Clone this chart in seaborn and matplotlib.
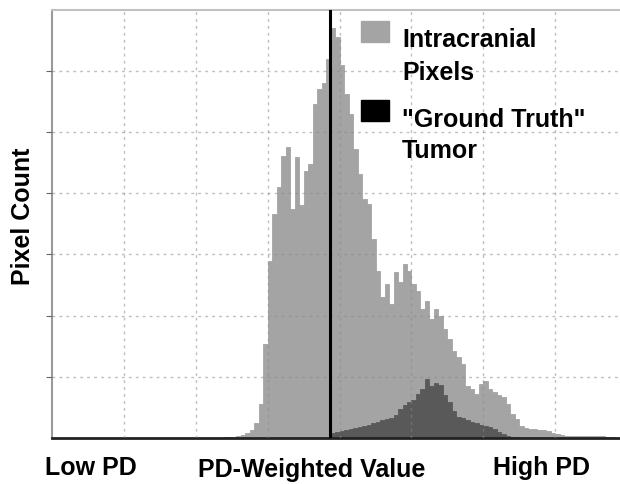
import numpy as np
import pandas as pd
import seaborn as sns
import matplotlib
matplotlib.use("Agg")
import matplotlib.pyplot as plt
from matplotlib.patches import Rectangle

sns.set_style("white")
plt.rcParams['font.family'] = ['Liberation Sans', 'DejaVu Sans']
plt.rcParams['text.color'] = 'black'

# PD-weighted value (0-255), histogram bins of width 2
bin_width = 2
brain_start = 72
brain_counts = [5, 8, 10, 12,
                15, 30, 50, 80, 130, 245, 555, 1535, 2890, 3660,
                4100, 4600, 4750, 3750, 4590, 3800, 4360, 4480, 5460, 5700,
                5800, 6200, 6700, 6550, 6100, 5620, 5290, 4720, 4310, 3900,
                3820, 3250, 2730, 2300, 2520, 2190, 2710, 2550, 2840, 2730,
                2520, 2400, 2110, 2240, 1940, 2110, 1990, 1780, 1620, 1420,
                1320, 1210, 850, 800, 720, 880, 930, 800, 750, 700,
                670, 555, 390, 310, 195, 165, 150, 150, 130, 130,
                115, 80, 65, 50, 40, 35, 40, 30, 35, 30,
                25, 30, 25, 20, 20]

tumor_start = 124
tumor_counts = [80, 100, 115, 130, 150, 165, 180, 195, 210, 245,
                260, 295, 310, 325, 375, 475, 540, 590, 620, 720,
                800, 965, 850, 900, 865, 700, 590, 440, 345, 325,
                295, 260, 245, 210, 195, 180, 150, 100, 65, 35,
                20, 10]

threshold = 123.7

brain_end = brain_start + bin_width * len(brain_counts)
tumor_end = tumor_start + bin_width * len(tumor_counts)
brain = pd.DataFrame({'value': np.arange(brain_start, brain_end, bin_width) + bin_width / 2,
                      'count': brain_counts})
tumor = pd.DataFrame({'value': np.arange(tumor_start, tumor_end, bin_width) + bin_width / 2,
                      'count': tumor_counts})

fig = plt.figure(figsize=(6.2, 4.85), dpi=100)
ax = fig.add_axes([52 / 620, 1 - 439 / 485, 568 / 620, 428.4 / 485])

gray = '#a4a4a4'
dark = '#595959'

sns.histplot(data=brain, x='value', weights='count', binwidth=bin_width,
             binrange=(brain_start, brain_end), element='bars', fill=True,
             color=gray, edgecolor=gray, alpha=1, linewidth=0.6, ax=ax)
sns.histplot(data=tumor, x='value', weights='count', binwidth=bin_width,
             binrange=(tumor_start, tumor_end), element='bars', fill=True,
             color=dark, edgecolor=dark, alpha=1, linewidth=0.6, ax=ax)

ax.axvline(threshold, color='black', lw=2.2, zorder=5)

ax.set_xlim(0, 252.8)
ax.set_ylim(0, 7000)
ax.set_xticks(np.arange(32, 252, 32))
ax.set_yticks(np.arange(1000, 7000, 1000))
ax.set_axisbelow(False)
ax.grid(True, color='#8a8a8a', linestyle=(0, (2, 3)), linewidth=1, alpha=0.55)
ax.tick_params(labelbottom=False, labelleft=False, bottom=False,
               left=True, length=4, color='#666666')
ax.set_xlabel('')
ax.set_ylabel('')

ax.spines['right'].set_visible(False)
ax.spines['bottom'].set_color('#222222')
ax.spines['bottom'].set_linewidth(2)
ax.spines['left'].set_color('#9a9a9a')
ax.spines['left'].set_linewidth(1.5)
ax.spines['top'].set_color('#c0c0c0')
ax.spines['top'].set_linewidth(1.5)

# legend drawn by hand so the box sits on the first text line
ax.add_patch(Rectangle((0.544, 0.924), 0.049, 0.049, transform=ax.transAxes,
                       color=gray, zorder=6, clip_on=False))
ax.add_patch(Rectangle((0.544, 0.740), 0.049, 0.049, transform=ax.transAxes,
                       color='black', zorder=6, clip_on=False))
fs = 18
for txt, y in [('Intracranial', 0.915), ('Pixels', 0.838),
               ('"Ground Truth"', 0.728), ('Tumor', 0.656)]:
    ax.text(0.616, y, txt, transform=ax.transAxes, fontsize=fs,
            fontweight='bold', va='baseline', ha='left', zorder=7, color='black')

fig.text(0.146, 1 - 475 / 485, 'Low PD', fontsize=fs, fontweight='bold',
         ha='center', va='baseline', color='black')
fig.text(0.502, 1 - 477 / 485, 'PD-Weighted Value', fontsize=fs,
         fontweight='bold', ha='center', va='baseline', color='black')
fig.text(0.873, 1 - 475 / 485, 'High PD', fontsize=fs, fontweight='bold',
         ha='center', va='baseline', color='black')
fig.text(0.037, 0.553, 'Pixel Count', fontsize=fs, fontweight='bold',
         rotation=90, ha='center', va='center', color='black')

fig.savefig('out.png', dpi=100)
